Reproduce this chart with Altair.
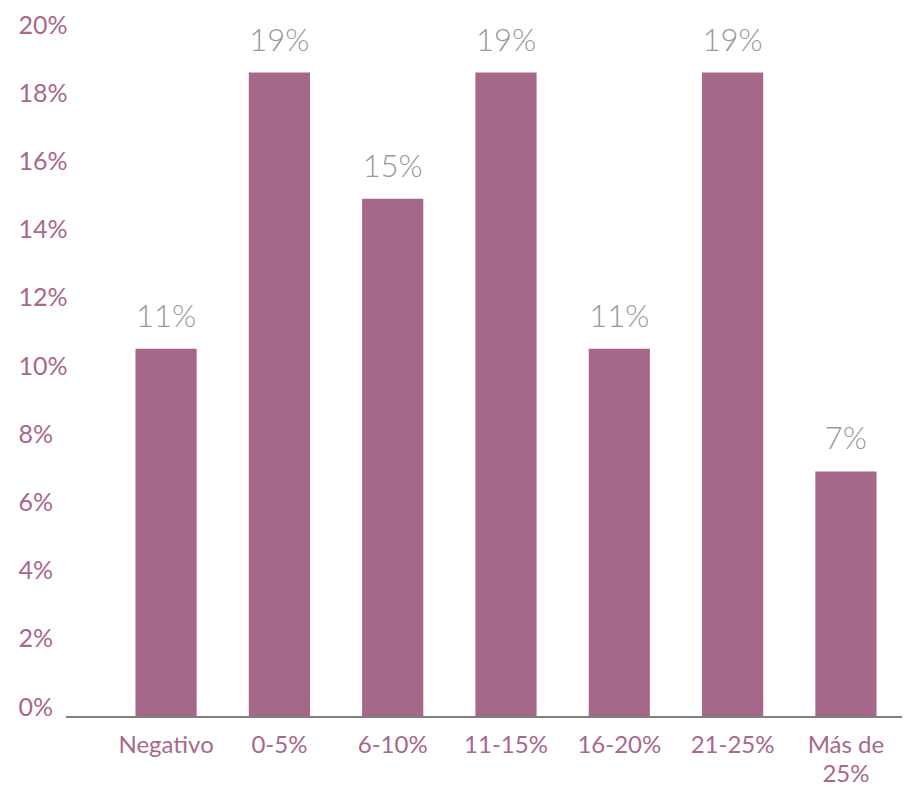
import altair as alt
import pandas as pd

categories = ["Negativo", "0-5%", "6-10%", "11-15%", "16-20%", "21-25%", "Más de 25%"]
values = [10.8, 18.9, 15.2, 18.9, 10.8, 18.9, 7.2]
y_ticks = [0, 2, 4, 6, 8, 10, 12, 14, 16, 18, 20]

df = pd.DataFrame({"cat": categories, "val": values, "frac": [v / 100 for v in values]})

W, H = 792, 682
BAR = "#A6688A"
LAB = "#A8688C"
FONT = "Lato"

x = alt.X(
    "cat:N",
    sort=categories,
    title=None,
    scale=alt.Scale(paddingInner=0.46, paddingOuter=0.225),
    axis=alt.Axis(
        labelAngle=0,
        labelFont=FONT,
        labelFontSize=24,
        labelColor=LAB,
        labelPadding=16,
        labelLineHeight=29,
        domain=False,
        ticks=False,
        labelExpr="datum.label == 'Más de 25%' ? ['Más de', '25%'] : datum.label",
    ),
)
y = alt.Y(
    "val:Q",
    title=None,
    scale=alt.Scale(domain=[0, 20], nice=False),
    axis=alt.Axis(
        values=y_ticks,
        labelExpr="datum.value + '%'",
        labelFont=FONT,
        labelFontSize=25,
        labelColor=LAB,
        labelAlign="left",
        labelBaseline="alphabetic",
        labelPadding=92,
        labelOffset=-2,
        grid=False,
        domain=False,
        ticks=False,
    ),
)

bars = alt.Chart(df).mark_bar(color=BAR).encode(x=x, y=y)
labels = alt.Chart(df).mark_text(
    font=FONT, fontSize=31, fontWeight=300, color="#999999",
    baseline="alphabetic", dy=-22,
).encode(x=alt.X("cat:N", sort=categories), y="val:Q", text=alt.Text("frac:Q", format=".0%"))
base = alt.Chart(df).mark_rule(color="#808080", strokeWidth=2).encode(
    y=alt.datum(0), x=alt.value(-44), x2=alt.value(W + 8)
)

chart = alt.layer(bars, labels, base).properties(
    width=W, height=H,
    autosize=alt.AutoSizeParams(type="none"),
    padding={"left": 102, "top": 27, "right": 0, "bottom": 70},
).configure_view(stroke=None)

chart.save("out.html", embed_options={"renderer": "svg", "actions": False})
